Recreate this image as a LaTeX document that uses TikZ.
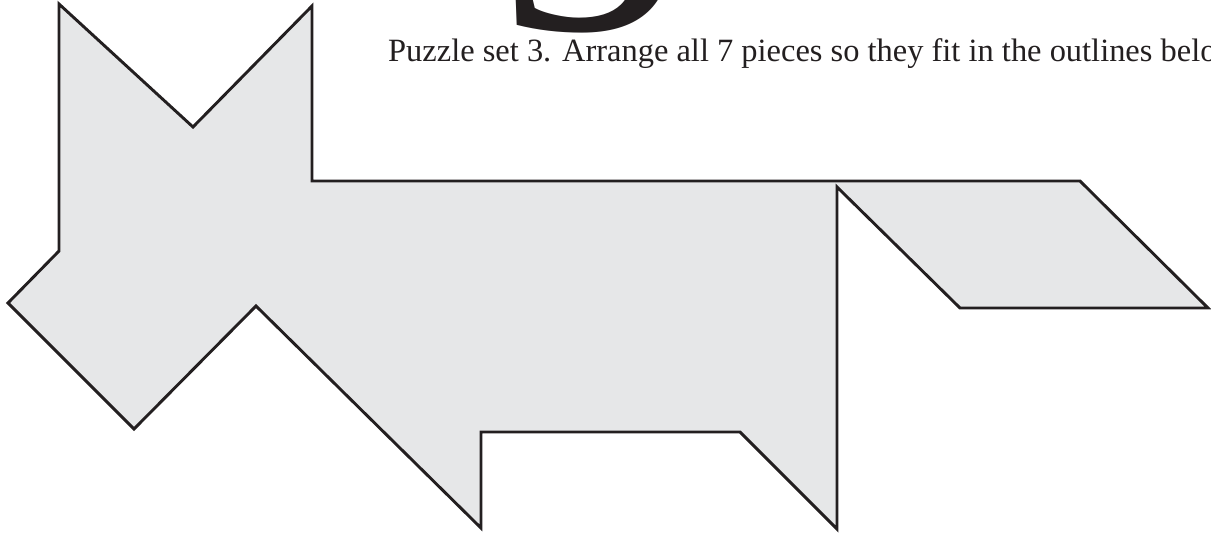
\documentclass[tikz,border=0pt]{standalone}
\usepackage{fontspec}
\setmainfont{Liberation Serif}
\usepackage{graphicx}
\definecolor{piecefill}{HTML}{E6E7E8}
\definecolor{pieceline}{HTML}{231F20}
\newlength\captionwidth
\tikzset{
  outline/.style={draw=pieceline, fill=piecefill, line width=2.9pt, line join=miter},
  captiontext/.style={anchor=base west, inner sep=0pt, text=pieceline},
}
\begin{document}
\settowidth{\captionwidth}{\fontsize{32.5pt}{36pt}\selectfont Puzzle set 3. Arrange all 7 pieces so they fit in the outlines bel}%
\begin{tikzpicture}[x=1pt, y=-1pt]
\clip (0,0) rectangle (1211,535);
\fill[white] (0,0) rectangle (1211,535);
\pgfmathsetmacro\capsx{812/\captionwidth}
\node[captiontext] (bigthree) at (497,30) {\fontsize{370pt}{400pt}\selectfont 3};
\node[captiontext] (caption) at (388,61.5) {\scalebox{\capsx}[1]{\fontsize{32.5pt}{36pt}\selectfont Puzzle set 3. Arrange all 7 pieces so they fit in the outlines below}};
\draw[outline] (59,4) -- (193,127) -- (312,6) -- (312,181) -- (1080,181) -- (1208,308) -- (960,308) -- (837,187) -- (837,529) -- (740,432) -- (481,432) -- (481,528) -- (256,306) -- (134,429) -- (8,303) -- (59,251) -- cycle;
\end{tikzpicture}
\end{document}
